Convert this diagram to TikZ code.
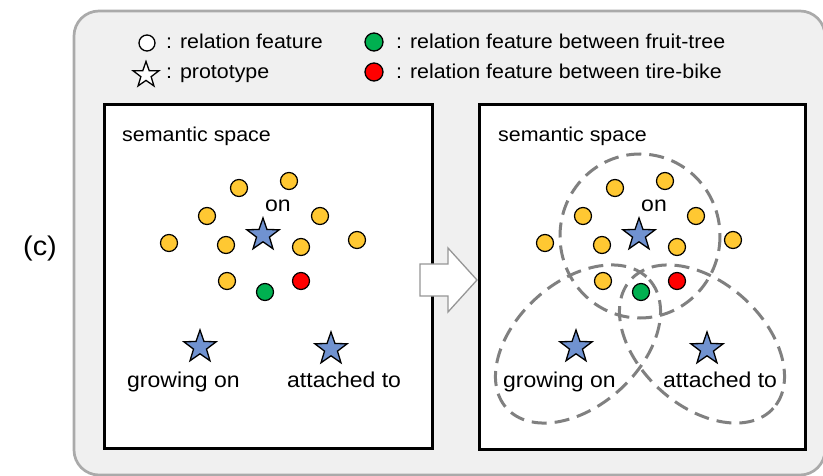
\documentclass[tikz,border=0pt]{standalone}
\usepackage{fontspec}
\setmainfont[FakeStretch=1.07]{Liberation Sans}
\usetikzlibrary{shapes.geometric}

\definecolor{bgc}{RGB}{240,240,240}
\definecolor{framec}{RGB}{170,170,170}
\definecolor{dotY}{RGB}{255,200,50}
\definecolor{starB}{RGB}{112,146,208}
\definecolor{dotG}{RGB}{0,176,80}
\definecolor{dotR}{RGB}{255,0,0}
\definecolor{dashc}{RGB}{128,128,128}
\definecolor{arrowc}{RGB}{150,150,150}

\begin{document}
\begin{tikzpicture}[x=1pt,y=-1pt,
 dot/.style={circle, draw=black, line width=1.2pt, minimum size=17pt, inner sep=0pt},
 ydot/.style={dot, fill=dotY},
 gdot/.style={dot, fill=dotG},
 rdot/.style={dot, fill=dotR},
 proto/.style={star, star points=5, star point ratio=2.5, draw=black, line width=1.3pt, fill=starB, minimum size=34pt, inner sep=0pt},
 lab/.style={font=\fontsize{21.5}{24}\selectfont, inner sep=0pt, anchor=base west},
 small/.style={font=\fontsize{20}{24}\selectfont, inner sep=0pt, anchor=base west},
 panel/.style={draw=black, line width=3pt, fill=white},
 region/.style={draw=dashc, line width=3pt, dash pattern=on 15pt off 8pt}
]
\useasboundingbox (0,0) rectangle (823,476);
% outer frame
\draw[draw=framec, fill=bgc, line width=2.7pt, rounded corners=25pt] (74,11) rectangle (825,475);

% legend
\node[dot, fill=white, minimum size=16pt, line width=1.3pt] (lgw) at (147,43) {};
\node[small] (lgwt) at (166,49) {: relation feature};
\node[star, star points=5, star point ratio=2.5, draw=black, line width=1.3pt, fill=white, minimum size=27pt, inner sep=0pt] (lgs) at (146,75) {};
\node[small] (lgst) at (166,79) {: prototype};
\node[dot, fill=dotG, minimum size=18pt, line width=1.3pt] (lgg) at (374,42) {};
\node[small] (lggt) at (396,49) {: relation feature between fruit-tree};
\node[dot, fill=dotR, minimum size=18pt, line width=1.3pt] (lgr) at (374,72) {};
\node[small] (lgrt) at (396,79) {: relation feature between tire-bike};

% (c)
\node[font=\fontsize{27}{30}\selectfont, inner sep=0pt, anchor=base] (clab) at (40,255) {(c)};

% panels
\draw[panel] (104,105) rectangle (432,448);
\draw[panel] (479,105) rectangle (805,449);

% regions in right panel
\draw[region] (640,236) ellipse [x radius=80, y radius=82];
\draw[region, rotate around={42:(578,344)}] (578,344) ellipse [x radius=96, y radius=62];
\draw[region, rotate around={-42:(702,344)}] (702,344) ellipse [x radius=96, y radius=62];

% both semantic spaces
\foreach \p/\dx in {L/0, R/376} {
  \begin{scope}[xshift=\dx pt]
    \node[small] (\p title) at (122,142) {semantic space};
    \node[ydot] (\p d1) at (239,188) {};
    \node[ydot] (\p d2) at (289,181) {};
    \node[ydot] (\p d3) at (207,216) {};
    \node[ydot] (\p d4) at (320,216) {};
    \node[ydot] (\p d5) at (169,243) {};
    \node[ydot] (\p d6) at (226,245) {};
    \node[ydot] (\p d7) at (301,247) {};
    \node[ydot] (\p d8) at (357,240) {};
    \node[ydot] (\p d9) at (227,281) {};
    \node[rdot] (\p red) at (301,281) {};
    \node[gdot] (\p green) at (265,292) {};
    \node[proto] (\p son) at (263,235) {};
    \node[font=\fontsize{21.5}{24}\selectfont, inner sep=0pt, anchor=base] (\p lon) at (278,212) {on};
    \node[proto] (\p sgrow) at (200,347) {};
    \node[lab] (\p lgrow) at (127,387) {growing on};
    \node[proto] (\p satt) at (331,349) {};
    \node[lab] (\p latt) at (287,387) {attached to};
  \end{scope}
}

% transition arrow
\draw[draw=arrowc, fill=white, line width=1.3pt, line join=miter]
  (420,264) -- (448,264) -- (448,248) -- (477,280) -- (448,312) -- (448,296) -- (420,296) -- cycle;
\end{tikzpicture}
\end{document}
